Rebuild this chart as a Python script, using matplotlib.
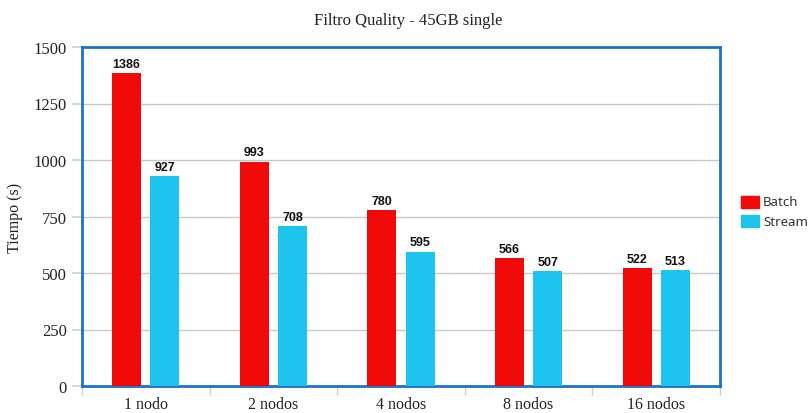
import matplotlib
matplotlib.use("Agg")
import matplotlib.pyplot as plt
from matplotlib.patches import Rectangle
import numpy as np

categories = ["1 nodo", "2 nodos", "4 nodos", "8 nodos", "16 nodos"]
batch = [1386, 993, 780, 566, 522]
stream = [927, 708, 595, 507, 513]
series_names = ["Batch", "Stream"]
yticks = [0, 250, 500, 750, 1000, 1250, 1500]

RED = "#F00A0A"
CYAN = "#1EC3EE"
FRAME = "#1A73C6"
GRID = "#C8C8C8"

fig = plt.figure(figsize=(8.09, 4.14), dpi=100)
ax = fig.add_axes([82 / 809, 1 - 387 / 414, (720 - 82) / 809, (387 - 48) / 414])

x = np.arange(len(categories))
w = 0.228
off = 0.15
b1 = ax.bar(x - off, batch, w, color=RED, zorder=3)
b2 = ax.bar(x + off, stream, w, color=CYAN, zorder=3)

for bars, vals in ((b1, batch), (b2, stream)):
    for r, v in zip(bars, vals):
        ax.text(r.get_x() + r.get_width() / 2, v + 14, f"{v}", ha="center", va="bottom",
                fontsize=9, fontweight="bold", family="Liberation Sans", color="#111111")

ax.set_xlim(-0.5, len(categories) - 0.5)
ax.set_ylim(0, 1500)
ax.set_yticks(yticks)
ax.set_yticklabels([str(t) for t in yticks], family="Liberation Serif", fontsize=12, color="#222222")
ax.set_xticks(x)
ax.set_xticklabels(categories, family="Liberation Serif", fontsize=11.5, color="#222222")
ax.set_xticks(np.arange(-0.5, len(categories)), minor=True)
ax.tick_params(axis="x", which="major", length=0, pad=7.5)
ax.tick_params(axis="x", which="minor", length=6.5, color="#CCCCCC", width=1)
ax.tick_params(axis="y", which="major", length=7.2, color="#C5D3E0", width=1.2, pad=3.6)

for y in yticks[1:-1]:
    ax.axhline(y, color=GRID, lw=1, zorder=1)

for s in ax.spines.values():
    s.set_color(FRAME)
    s.set_linewidth(2)

ax.set_ylabel("Tiempo (s)", family="Liberation Serif", fontsize=11.5, color="#222222", labelpad=8)
fig.text(408 / 809, 1 - 21 / 414, "Filtro Quality - 45GB single", ha="center", va="center",
         family="Liberation Serif", fontsize=12, color="#222222")

# legend
for i, (name, col) in enumerate(zip(series_names, [RED, CYAN])):
    yc = 203 + i * 19
    fig.patches.append(Rectangle((741 / 809, 1 - (yc + 6.2) / 414), 18 / 809, 12.4 / 414,
                                 transform=fig.transFigure, color=col))
    fig.text(763 / 809, 1 - yc / 414, name, ha="left", va="center",
             family="Noto Sans", fontsize=9.5, color="#333333")

fig.savefig("out.png", dpi=100)
